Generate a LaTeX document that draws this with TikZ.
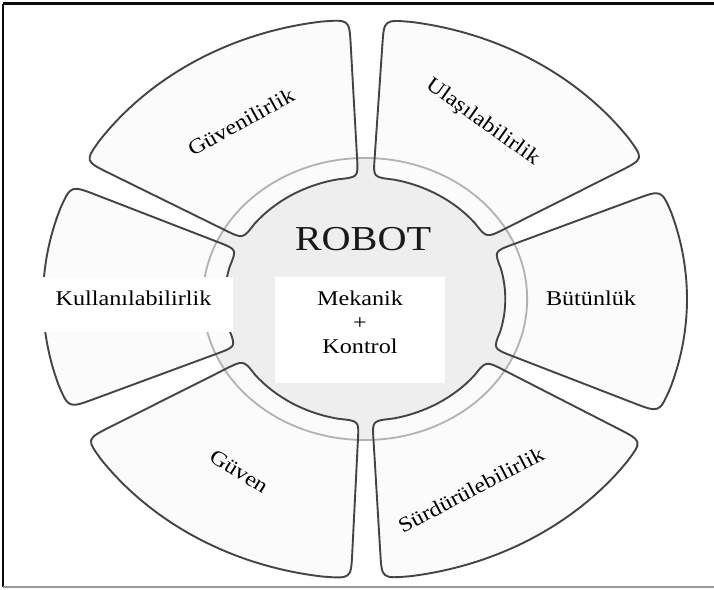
\documentclass[tikz,border=0pt]{standalone}
\usepackage{fontspec}
\setmainfont[FakeStretch=1.15]{Liberation Serif}
\definecolor{petalline}{HTML}{444444}
\definecolor{petalfill}{HTML}{FBFBFB}
\definecolor{hubfill}{HTML}{EEEEEE}
\definecolor{ringline}{HTML}{B2B2B2}
\definecolor{frameline}{HTML}{0A0A0A}
% radii of a segment and the sizes of its rounded corners
\def\ri{122}\def\ro{280}
\def\rom{255}\def\rip{140}
\def\dao{5.1}\def\dai{8.4}
% one ring segment from angle #1 to #2, corners rounded by short curves
\newcommand\segmentpath[2]{%
  (#1:\rip) -- (#1:\rom) .. controls (#1:\ro) .. (#1+\dao:\ro)
  arc[start angle=#1+\dao, end angle=#2-\dao, radius=\ro]
  .. controls (#2:\ro) .. (#2:\rom) -- (#2:\rip)
  .. controls (#2:\ri) .. (#2-\dai:\ri)
  arc[start angle=#2-\dai, end angle=#1+\dai, radius=\ri]
  .. controls (#1:\ri) .. (#1:\rip) -- cycle}
\begin{document}
\begin{tikzpicture}[x=1pt,y=-1pt,
  petaledge/.style={draw=petalline, line width=1.9pt},
  lbl/.style={font=\fontsize{21}{24}\selectfont, inner sep=0pt, text=black},
  title/.style={font=\fontsize{35}{40}\selectfont, inner sep=0pt, text=black!90},
]
\useasboundingbox (0,0) rectangle (714,589);
\fill[white] (0,0) rectangle (714,589);

% frame
\draw[frameline, line width=3pt] (3,3.5) -- (714,3.5);
\draw[frameline, line width=2pt] (3,3.5) -- (3,587);
\draw[black!40, line width=1.5pt] (3,587) -- (714,587);

% hub, ring and the six segments
\begin{scope}[shift={(365,299)}, xscale=1.15, yscale=-1]
  \fill[hubfill] (0,0) circle[radius=141];
  \foreach \a/\b in {30/86.6, 92.8/150.5, 156/203, 210/267.5, 273/329.5, -24/23} {
    \fill[petalfill] \segmentpath{\a}{\b};
  }
  \draw[ringline, line width=1.8pt] (0,0) circle[radius=141];
  \foreach \a/\b in {30/86.6, 92.8/150.5, 156/203, 210/267.5, 273/329.5, -24/23} {
    \draw[petaledge] \segmentpath{\a}{\b};
  }
\end{scope}

% white label panels
\fill[white] (35,277) rectangle (233,332);
\fill[white] (275,277) rectangle (445,383);

% labels
\node[title] (robot) at (363,239) {ROBOT};
\node[lbl, align=center] (core) at (360,322) {Mekanik\\+\\Kontrol};
\node[lbl] (kull) at (133.5,298) {Kullanılabilirlik};
\node[lbl] (butun) at (591,298) {Bütünlük};
\node[lbl, rotate=29] (guvenilir) at (241,122) {Güvenilirlik};
\node[lbl, rotate=-35.5] (ulas) at (482.5,122.5) {Ulaşılabilirlik};
\node[lbl, rotate=-32] (guven) at (239,471.5) {Güven};
\node[lbl, rotate=27.5] (surdur) at (471,490) {Sürdürülebilirlik};
\end{tikzpicture}
\end{document}
